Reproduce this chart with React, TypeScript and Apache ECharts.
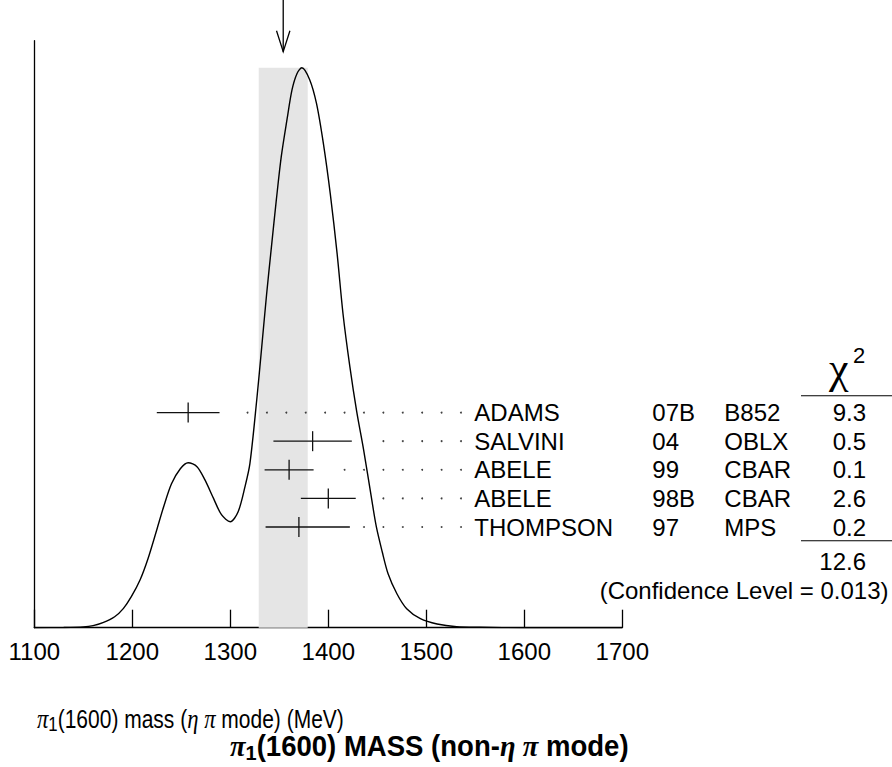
import React, { useEffect, useRef } from "react";
import * as echarts from "echarts";

// ---- data ----
const massTicks = [1100, 1200, 1300, 1400, 1500, 1600, 1700];
const authors = ["ADAMS", "SALVINI", "ABELE", "ABELE", "THOMPSON"];
const years = ["07B", "04", "99", "98B", "97"];
const experiments = ["B852", "OBLX", "CBAR", "CBAR", "MPS"];
const masses = [1257, 1384, 1360, 1400, 1370];
const errLow = [32, 40, 25, 28, 34];
const errHigh = [32, 40, 25, 28, 52];
const chi2 = ["9.3", "0.5", "0.1", "2.6", "0.2"];
const chi2Total = "12.6";
const confidenceLevel = "0.013";
const avgMass = 1354;
const avgErr = 25;

// ideogram (normalised to its peak)
const curveMass = [
  1100, 1130, 1150, 1160, 1170, 1182, 1191, 1199, 1208, 1216, 1225, 1232, 1240, 1249,
  1257, 1266, 1274, 1283, 1291, 1300, 1308, 1315, 1320, 1327, 1332, 1337, 1342, 1347,
  1352, 1358, 1363, 1368, 1373, 1381, 1388, 1395, 1402, 1409, 1415, 1422, 1429, 1436,
  1444, 1449, 1455, 1461, 1470, 1480, 1494, 1511, 1531, 1555, 1600, 1700,
];
const curveDensity = [
  0, 0.0004, 0.0014, 0.0036, 0.0089, 0.0196, 0.0346, 0.0554, 0.0857, 0.1232, 0.175,
  0.2161, 0.2571, 0.2839, 0.2946, 0.2875, 0.2643, 0.2304, 0.2018, 0.1893, 0.2071,
  0.2518, 0.2929, 0.4071, 0.5, 0.5946, 0.6804, 0.7643, 0.8411, 0.9089, 0.9607, 0.9893,
  1.0, 0.9786, 0.9357, 0.8643, 0.775, 0.6679, 0.5607, 0.4661, 0.3857, 0.3179, 0.2321,
  0.1804, 0.1357, 0.0964, 0.0607, 0.0339, 0.0161, 0.0066, 0.0018, 0.0007, 0, 0,
];

// dot leader grid (MeV): last dot, spacing, gap after an error bar
const dotLast = 1535.4;
const dotStep = 19.8;
const dotGap = 13.3;

const SANS = '"Liberation Sans", Arial, Helvetica, sans-serif';
const SERIF = '"Liberation Serif", "Times New Roman", serif';

const NAME_X = 474.3;
const YEAR_X = 652.3;
const EXP_X = 724.3;
const CHI_X = 866;

export default function App() {
  const ref = useRef<HTMLDivElement>(null);

  useEffect(() => {
    if (!ref.current) return;
    const chart = echarts.init(ref.current, undefined, { renderer: "svg" });
    const bandTop = Math.max(...curveDensity);

    const dots: number[][] = [];
    masses.forEach((m, i) => {
      for (let d = dotLast; d > m + errHigh[i] + dotGap; d -= dotStep) dots.push([d, i]);
    });

    const option: any = {
      animation: false,
      backgroundColor: "#fff",
      grid: { left: 34.3, top: 40.7, width: 588, height: 587, containLabel: false },
      xAxis: {
        type: "value",
        min: massTicks[0],
        max: massTicks[massTicks.length - 1],
        interval: 100,
        axisLine: { show: true, onZero: false, lineStyle: { color: "#000", width: 1.3 } },
        axisTick: { show: true, inside: true, length: 18, lineStyle: { color: "#000", width: 1.3 } },
        axisLabel: {
          color: "#000",
          fontSize: 24,
          fontFamily: SANS,
          margin: 12,
          showMinLabel: true,
          showMaxLabel: true,
          formatter: (v: number) => String(v),
        },
        splitLine: { show: false },
      },
      yAxis: [
        {
          type: "value",
          min: 0,
          max: 1.0482,
          position: "left",
          axisLine: { show: true, onZero: false, lineStyle: { color: "#000", width: 1.3 } },
          axisTick: { show: false },
          axisLabel: { show: false },
          splitLine: { show: false },
        },
        { type: "value", min: -13, max: 7.52, inverse: true, show: false, splitLine: { show: false } },
      ],
      series: [
        {
          type: "custom",
          silent: true,
          z: 1,
          clip: false,
          xAxisIndex: 0,
          yAxisIndex: 0,
          data: [[avgMass, avgErr, bandTop]],
          renderItem: (params: any, api: any) => {
            const m = api.value(0);
            const e = api.value(1);
            const top = api.value(2);
            const p1 = api.coord([m - e, top]);
            const p2 = api.coord([m + e, 0]);
            const a = api.coord([m, 0]);
            return {
              type: "group",
              children: [
                {
                  type: "rect",
                  shape: { x: p1[0], y: p1[1], width: p2[0] - p1[0], height: p2[1] - p1[1] },
                  style: { fill: "#e5e5e5" },
                },
                {
                  type: "line",
                  shape: { x1: a[0], y1: 0, x2: a[0], y2: 51.7 },
                  style: { stroke: "#000", lineWidth: 1.3 },
                },
                {
                  type: "polyline",
                  shape: { points: [[a[0] - 6.7, 30.7], [a[0], 51.7], [a[0] + 6.7, 30.7]] },
                  style: { stroke: "#000", fill: null, lineWidth: 1.3 },
                },
              ],
            };
          },
        },
        {
          type: "line",
          silent: true,
          z: 2,
          xAxisIndex: 0,
          yAxisIndex: 0,
          data: curveMass.map((m, i) => [m, curveDensity[i]]),
          smooth: 0.3,
          showSymbol: false,
          symbol: "none",
          lineStyle: { color: "#000", width: 1.4 },
        },
        {
          type: "scatter",
          silent: true,
          z: 3,
          xAxisIndex: 0,
          yAxisIndex: 1,
          data: dots,
          symbol: "circle",
          symbolSize: 1.9,
          itemStyle: { color: "#111" },
        },
        {
          type: "custom",
          silent: true,
          z: 4,
          clip: false,
          xAxisIndex: 0,
          yAxisIndex: 1,
          data: masses.map((m, i) => [m, i, errLow[i], errHigh[i]]),
          renderItem: (params: any, api: any) => {
            const i = params.dataIndex;
            const m = api.value(0);
            const row = api.value(1);
            const c = api.coord([m, row]);
            const l = api.coord([m - api.value(2), row]);
            const r = api.coord([m + api.value(3), row]);
            const y = c[1];
            const txt = (text: string, x: number, align: string) => ({
              type: "text",
              x,
              y,
              style: { text, fontSize: 24, fontFamily: SANS, fill: "#000", align, verticalAlign: "middle" },
            });
            return {
              type: "group",
              children: [
                { type: "line", shape: { x1: l[0], y1: y, x2: r[0], y2: y }, style: { stroke: "#111", lineWidth: 1.3 } },
                { type: "line", shape: { x1: c[0], y1: y - 10, x2: c[0], y2: y + 10 }, style: { stroke: "#111", lineWidth: 1.3 } },
                txt(authors[i], NAME_X, "left"),
                txt(years[i], YEAR_X, "left"),
                txt(experiments[i], EXP_X, "left"),
                txt(chi2[i], CHI_X, "right"),
              ],
            };
          },
        },
      ],
      graphic: [
        {
          type: "text",
          x: 829,
          y: 368,
          style: { text: "χ", fontSize: 44, fontFamily: SERIF, fill: "#000", align: "left", verticalAlign: "middle" },
        },
        {
          type: "text",
          x: 853,
          y: 355,
          style: { text: "2", fontSize: 22, fontFamily: SANS, fill: "#000", align: "left", verticalAlign: "middle" },
        },
        { type: "line", shape: { x1: 801, y1: 395.7, x2: 892, y2: 395.7 }, style: { stroke: "#000", lineWidth: 1.1 } },
        { type: "line", shape: { x1: 801, y1: 540.7, x2: 892, y2: 540.7 }, style: { stroke: "#000", lineWidth: 1.1 } },
        {
          type: "text",
          x: CHI_X,
          y: 561.7,
          style: { text: chi2Total, fontSize: 24, fontFamily: SANS, fill: "#000", align: "right", verticalAlign: "middle" },
        },
        {
          type: "text",
          x: 888.5,
          y: 590,
          style: {
            text: "(Confidence Level = " + confidenceLevel + ")",
            fontSize: 24,
            fontFamily: SANS,
            fill: "#000",
            align: "right",
            verticalAlign: "middle",
          },
        },
        {
          type: "text",
          x: 37,
          y: 719,
          scaleX: 0.84,
          style: {
            text: "{g|π}{s|1}{n|(1600) mass (}{g|η π}{n| mode) (MeV)}",
            align: "left",
            verticalAlign: "middle",
            rich: {
              n: { fontSize: 25, fontFamily: SANS, fill: "#000", lineHeight: 30, verticalAlign: "middle" },
              g: { fontSize: 27, fontFamily: SERIF, fontStyle: "italic", fill: "#000", lineHeight: 30, verticalAlign: "middle" },
              s: { fontSize: 20, fontFamily: SANS, fill: "#000", lineHeight: 18, verticalAlign: "bottom" },
            },
          },
        },
        {
          type: "text",
          x: 230,
          y: 746,
          scaleX: 0.95,
          style: {
            text: "{g|π}{s|1}{n|(1600) MASS (non-}{g|η π}{n| mode)}",
            align: "left",
            verticalAlign: "middle",
            rich: {
              n: { fontSize: 29, fontFamily: SANS, fontWeight: "bold", fill: "#000", lineHeight: 34, verticalAlign: "middle" },
              g: { fontSize: 30, fontFamily: SERIF, fontStyle: "italic", fontWeight: "bold", fill: "#000", lineHeight: 34, verticalAlign: "middle" },
              s: { fontSize: 21, fontFamily: SANS, fontWeight: "bold", fill: "#000", lineHeight: 20, verticalAlign: "bottom" },
            },
          },
        },
      ],
    };

    chart.setOption(option);
    return () => chart.dispose();
  }, []);

  return (
    <div
      ref={ref}
      style={{ position: "fixed", left: 0, top: 0, width: 892, height: 767, background: "#fff" }}
    />
  );
}
